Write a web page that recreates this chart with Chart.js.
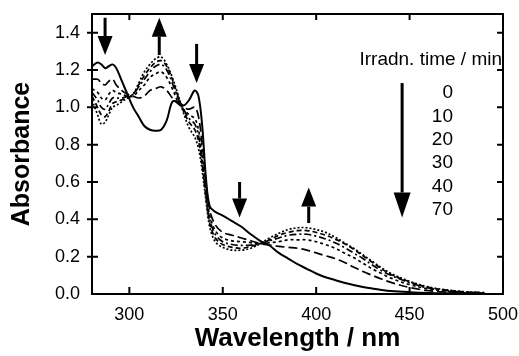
<!DOCTYPE html>
<html><head><meta charset="utf-8">
<script src="https://cdn.jsdelivr.net/npm/chart.js@4/dist/chart.umd.min.js"></script>
<style>html,body{margin:0;padding:0;background:#fff}#w{width:519px;height:356px}</style>
</head><body><div id="w"><canvas id="c"></canvas></div>
<script>
const wavelengths = [280,283,285,287,289,291,293,296,299,302,305,308,311,314,317,320,323,326,329,332,335,337,339,341,343,346,350,355,360,365,370,375,380,385,390,395,400,405,410,415,420,425,430,435,440,450,460,470,480,490];
const abs0  = [1.22,1.24,1.23,1.21,1.22,1.23,1.21,1.14,1.07,1.0,0.95,0.90,0.88,0.875,0.88,0.93,1.03,1.03,1.01,1.04,1.09,1.06,0.90,0.62,0.47,0.44,0.42,0.39,0.36,0.32,0.285,0.26,0.22,0.19,0.16,0.135,0.11,0.09,0.075,0.06,0.048,0.038,0.03,0.022,0.016,0.01,0.006,0.004,0.003,0.002];
const abs10 = [1.15,1.15,1.13,1.12,1.14,1.15,1.12,1.09,1.07,1.06,1.05,1.06,1.09,1.10,1.11,1.09,1.05,1.02,1.0,0.99,1.0,0.95,0.80,0.6,0.45,0.37,0.33,0.315,0.30,0.285,0.27,0.262,0.255,0.25,0.245,0.235,0.22,0.205,0.19,0.17,0.145,0.12,0.10,0.08,0.062,0.035,0.018,0.01,0.006,0.004];
const abs20 = [1.10,1.08,1.05,1.04,1.07,1.09,1.08,1.07,1.06,1.06,1.09,1.12,1.16,1.18,1.19,1.16,1.1,1.03,0.99,0.96,0.94,0.88,0.74,0.56,0.42,0.34,0.30,0.285,0.28,0.275,0.27,0.275,0.28,0.29,0.29,0.29,0.28,0.265,0.245,0.22,0.195,0.165,0.135,0.11,0.085,0.05,0.028,0.015,0.008,0.005];
const abs30 = [1.08,1.04,1.0,0.99,1.02,1.05,1.05,1.05,1.06,1.07,1.11,1.15,1.19,1.22,1.23,1.2,1.13,1.05,0.99,0.94,0.91,0.85,0.71,0.54,0.4,0.32,0.28,0.265,0.26,0.262,0.27,0.285,0.30,0.315,0.32,0.32,0.31,0.295,0.275,0.25,0.22,0.19,0.155,0.125,0.1,0.06,0.032,0.018,0.01,0.006];
const abs40 = [1.06,1.0,0.96,0.95,0.98,1.02,1.03,1.04,1.05,1.07,1.12,1.17,1.21,1.24,1.25,1.22,1.15,1.06,0.98,0.92,0.88,0.82,0.69,0.52,0.38,0.30,0.265,0.25,0.245,0.255,0.27,0.29,0.315,0.33,0.34,0.34,0.33,0.315,0.295,0.27,0.24,0.205,0.17,0.135,0.105,0.065,0.036,0.02,0.011,0.006];
const abs70 = [1.04,0.96,0.91,0.92,0.96,1.0,1.01,1.03,1.05,1.07,1.13,1.19,1.23,1.26,1.27,1.23,1.16,1.07,0.97,0.89,0.84,0.78,0.66,0.5,0.36,0.28,0.25,0.235,0.235,0.245,0.27,0.30,0.325,0.345,0.355,0.355,0.345,0.33,0.305,0.275,0.245,0.21,0.175,0.14,0.11,0.068,0.038,0.022,0.012,0.007];
const times = ["0","10","20","30","40","70"];
const xTicks = [300,350,400,450,500];
const yTicks = [0.0,0.2,0.4,0.6,0.8,1.0,1.2,1.4];
// arrows: [wavelength, from abs, to abs]
const arrows = [[287,1.48,1.28],[316,1.28,1.48],[336,1.34,1.13],[359,0.60,0.41],[396,0.38,0.57]];
const bigArrow = [446,1.13,0.41];

const series = [abs0,abs10,abs20,abs30,abs40,abs70];
const dashes = [[],[9,4],[3,3],[7,3,2,3],[5,3],[2,2]];
const FONT = "'Liberation Sans', Arial, Helvetica, sans-serif";

const deco = {
  id:'deco',
  afterDraw(chart){
    const {ctx, chartArea:a, scales:{x,y}} = chart;
    ctx.save();
    ctx.strokeStyle='#000'; ctx.fillStyle='#000';
    ctx.lineWidth=2;
    ctx.strokeRect(a.left,a.top,a.right-a.left,a.bottom-a.top);
    ctx.beginPath();
    xTicks.forEach(v=>{const p=x.getPixelForValue(v); if(p<a.right-2){ctx.moveTo(p,a.bottom);ctx.lineTo(p,a.bottom-7);ctx.moveTo(p,a.top);ctx.lineTo(p,a.top+6);}});
    yTicks.forEach(v=>{const p=y.getPixelForValue(v); if(p>a.top+2 && p<a.bottom-2){ctx.moveTo(a.left-5,p);ctx.lineTo(a.left+6,p);ctx.moveTo(a.right,p);ctx.lineTo(a.right-6,p);}});
    ctx.stroke();
    const arrow=(wl,y0,y1,lw,hl,hw)=>{
      const px=x.getPixelForValue(wl), p0=y.getPixelForValue(y0), p1=y.getPixelForValue(y1);
      const dir=Math.sign(p1-p0);
      ctx.lineWidth=lw;
      ctx.beginPath();ctx.moveTo(px,p0);ctx.lineTo(px,p1-dir*hl);ctx.stroke();
      ctx.beginPath();ctx.moveTo(px,p1);ctx.lineTo(px-hw/2,p1-dir*hl);ctx.lineTo(px+hw/2,p1-dir*hl);ctx.closePath();ctx.fill();
    };
    arrows.forEach(r=>arrow(r[0],r[1],r[2],3,19,15));
    arrow(bigArrow[0],bigArrow[1],bigArrow[2],3,25,17);
    ctx.font="19px "+FONT; ctx.textAlign='right'; ctx.textBaseline='middle';
    ctx.fillText("Irradn. time / min", a.right-1, 60);
    times.forEach((t,i)=>ctx.fillText(t, 453, 93+i*23.4));
    ctx.restore();
  }
};

new Chart(document.getElementById('c'),{
  type:'line',
  data:{datasets: series.map((s,i)=>({
    label: times[i]+' min',
    data: wavelengths.map((w,j)=>({x:w,y:s[j]})),
    borderColor:'#000', borderWidth: i===0?2:1.7, borderDash: dashes[i],
    pointRadius:0, tension:0.35, fill:false
  }))},
  options:{
    responsive:true, maintainAspectRatio:false, animation:false,
    layout:{padding:{left:0,right:16,top:14,bottom:0}},
    plugins:{legend:{display:false},tooltip:{enabled:false}},
    scales:{
      x:{type:'linear',min:280,max:500,
        afterBuildTicks:s=>{s.ticks=xTicks.map(v=>({value:v}));},
        afterFit:s=>{s.height=62;s.paddingRight=0;s.paddingLeft=0;},
        grid:{display:false,drawTicks:false},border:{display:false},
        ticks:{padding:10,color:'#000',font:{family:FONT,size:18},maxRotation:0},
        title:{display:true,text:'Wavelength / nm',color:'#000',font:{family:FONT,size:26,weight:'bold'},padding:{top:0,bottom:2}}
      },
      y:{type:'linear',min:0,max:1.5,
        afterBuildTicks:s=>{s.ticks=yTicks.map(v=>({value:v}));},
        afterFit:s=>{s.width=92;s.paddingTop=0;s.paddingBottom=0;},
        grid:{display:false,drawTicks:false},border:{display:false},
        ticks:{padding:12,color:'#000',font:{family:FONT,size:18},callback:v=>v.toFixed(1)},
        title:{display:true,text:'Absorbance',color:'#000',font:{family:FONT,size:25,weight:'bold'},padding:{top:7,bottom:0}}
      }
    }
  },
  plugins:[deco]
});
</script></body></html>
